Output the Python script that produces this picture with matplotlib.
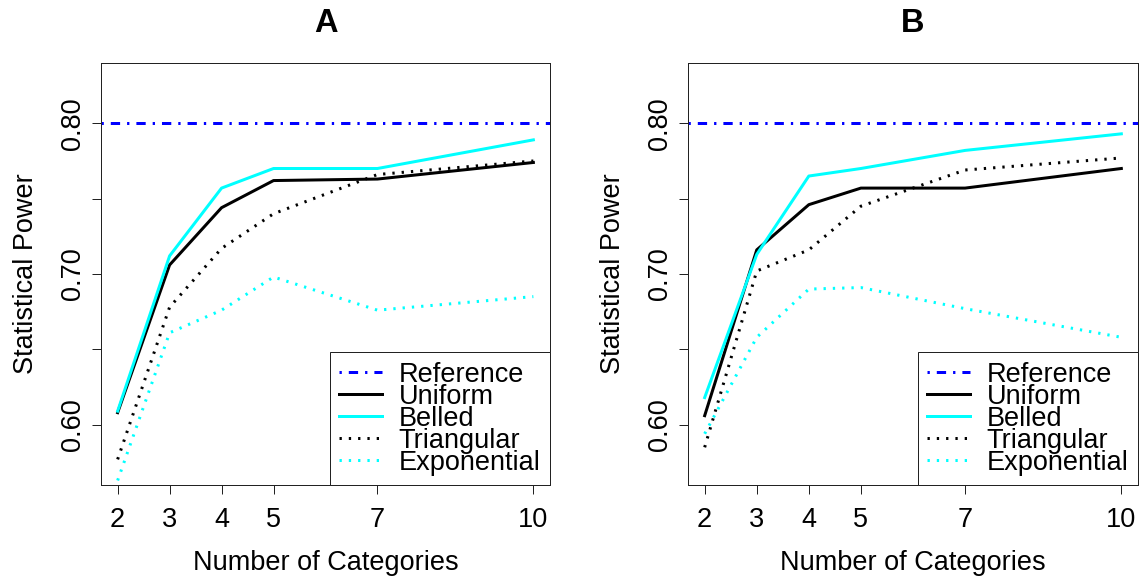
"""Statistical power by number of categories, two panels."""

import matplotlib
matplotlib.use("Agg")
import matplotlib.pyplot as plt

categories = [2, 3, 4, 5, 7, 10]
reference_power = 0.80

uniform_a = [0.608, 0.706, 0.744, 0.762, 0.763, 0.774]
belled_a = [0.609, 0.712, 0.757, 0.770, 0.770, 0.789]
triangular_a = [0.577, 0.678, 0.717, 0.740, 0.766, 0.775]
exponential_a = [0.563, 0.661, 0.676, 0.698, 0.676, 0.685]

uniform_b = [0.606, 0.716, 0.746, 0.757, 0.757, 0.770]
belled_b = [0.618, 0.713, 0.765, 0.770, 0.782, 0.793]
triangular_b = [0.585, 0.702, 0.716, 0.745, 0.769, 0.777]
exponential_b = [0.594, 0.658, 0.690, 0.691, 0.677, 0.658]

y_ticks = [0.60, 0.65, 0.70, 0.75, 0.80]
y_tick_labels = ["0.60", "", "0.70", "", "0.80"]

plt.rcParams["font.family"] = ["Liberation Sans", "DejaVu Sans"]

FS = 19.5
LW = 2.16
DOTDASH = (0, (0.77, 2.33, 3.1, 2.33))
DOTTED = (0, (0.77, 2.33))
FRAME = "#222222"


def draw_panel(ax, title, uniform, belled, triangular, exponential):
    ax.axhline(reference_power, color="#0000ff", lw=LW, ls=DOTDASH,
               dash_capstyle="butt", label="Reference")
    ax.plot(categories, uniform, color="black", lw=LW, label="Uniform")
    ax.plot(categories, belled, color="#00ffff", lw=LW, label="Belled")
    ax.plot(categories, triangular, color="black", lw=LW, ls=DOTTED,
            dash_capstyle="butt", label="Triangular")
    ax.plot(categories, exponential, color="#00ffff", lw=LW, ls=DOTTED,
            dash_capstyle="butt", label="Exponential")

    ax.set_xlim(1.68, 10.32)
    ax.set_ylim(0.56, 0.84)
    ax.set_xticks(categories)
    ax.set_yticks(y_ticks)
    ax.set_yticklabels(y_tick_labels, rotation=90, va="center")
    ax.tick_params(axis="both", direction="out", length=6.5, width=0.72,
                   color=FRAME, labelsize=FS)
    ax.tick_params(axis="x", pad=9.5)
    ax.tick_params(axis="y", pad=4.3)
    for sp in ax.spines.values():
        sp.set_linewidth(0.72)
        sp.set_color(FRAME)

    ax.set_xlabel("Number of Categories", fontsize=FS, labelpad=12)
    ax.set_ylabel("Statistical Power", fontsize=FS, labelpad=15)
    ax.set_title(title, fontsize=23.5, fontweight="bold", pad=22)

    leg = ax.legend(loc="lower right", bbox_to_anchor=(1, 0),
                    borderaxespad=0, fontsize=FS, fancybox=False,
                    framealpha=1, edgecolor=FRAME, handlelength=1.6,
                    handletextpad=0.6, borderpad=0.35, labelspacing=-0.15)
    leg.get_frame().set_linewidth(0.72)


fig = plt.figure(figsize=(11.39, 5.82), dpi=100)
ax_a = fig.add_axes([101 / 1139, 97 / 582, 449 / 1139, 422 / 582])
ax_b = fig.add_axes([688 / 1139, 97 / 582, 450 / 1139, 422 / 582])

draw_panel(ax_a, "A", uniform_a, belled_a, triangular_a, exponential_a)
draw_panel(ax_b, "B", uniform_b, belled_b, triangular_b, exponential_b)

fig.savefig("out.png", dpi=100)
plt.close(fig)
